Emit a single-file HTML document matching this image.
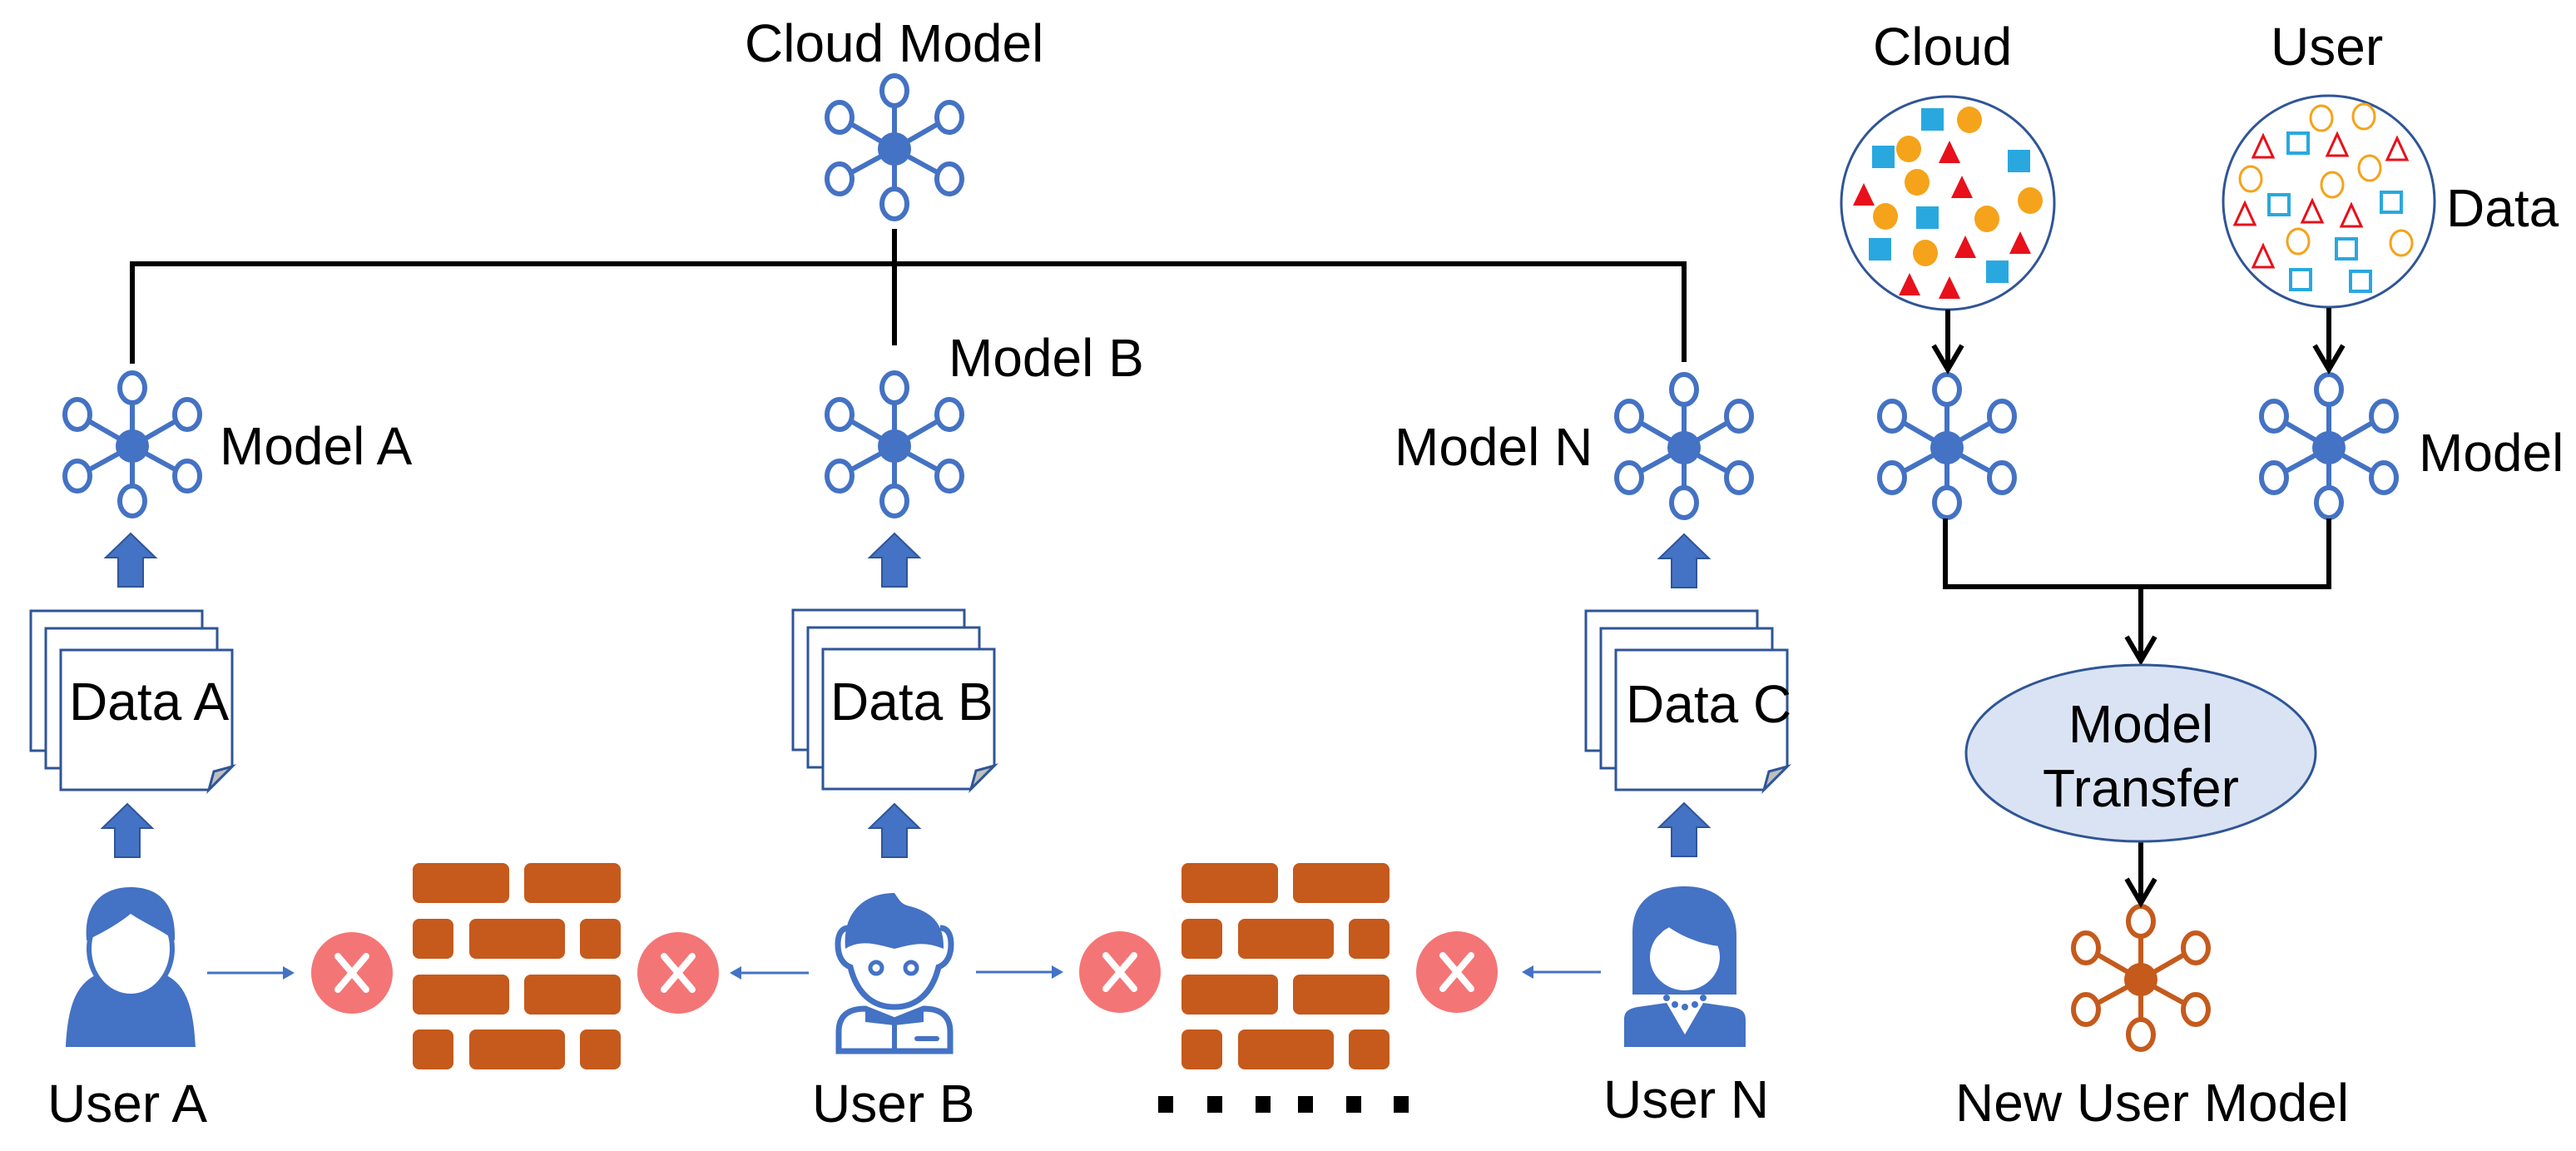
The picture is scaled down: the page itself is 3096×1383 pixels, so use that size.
<!DOCTYPE html>
<html><head><meta charset="utf-8"><style>
html,body{margin:0;padding:0;background:#fff;}
svg{display:block;}
text{font-family:"Liberation Sans",Arial,sans-serif;font-size:64px;fill:#000;}
</style></head><body>
<svg width="3096" height="1383" viewBox="0 0 3096 1383" xmlns="http://www.w3.org/2000/svg">
<defs>
<g id="net">
 <g stroke-width="6">
  <line x1="0" y1="0" x2="0" y2="-70"/><line x1="0" y1="0" x2="0" y2="66"/>
  <line x1="0" y1="0" x2="-66" y2="-38"/><line x1="0" y1="0" x2="66" y2="-38"/>
  <line x1="0" y1="0" x2="-66" y2="36"/><line x1="0" y1="0" x2="66" y2="36"/>
 </g>
 <circle cx="0" cy="0" r="20" stroke="none"/>
 <g fill="#fff" stroke-width="6">
  <ellipse cx="0" cy="-70" rx="15" ry="18"/><ellipse cx="0" cy="66" rx="15" ry="18"/>
  <ellipse cx="-66" cy="-38" rx="15" ry="18"/><ellipse cx="66" cy="-38" rx="15" ry="18"/>
  <ellipse cx="-66" cy="36" rx="15" ry="18"/><ellipse cx="66" cy="36" rx="15" ry="18"/>
 </g>
</g>
<g id="barrow"><polygon points="0,0 30,29 15,29 15,64 -15,64 -15,29 -30,29" fill="#4472c4" stroke="#2f5597" stroke-width="2"/></g>
<g id="docs" stroke="#2f5597" stroke-width="3" fill="#fff">
 <rect x="-36" y="-47" width="206" height="168"/>
 <rect x="-18" y="-26" width="206" height="168"/>
 <path d="M0,0 H206 V140 L178,168 H0 Z"/>
 <path d="M178,168 L184,146 L206,140 Z" fill="#bfbfbf"/>
</g>
<g id="xc"><circle r="49" fill="#f47576"/><g stroke="#fff" stroke-width="8" stroke-linecap="round"><line x1="-17" y1="-20" x2="17" y2="20"/><line x1="17" y1="-20" x2="-17" y2="20"/></g></g>
<g id="wall" fill="#c55a1c">
 <rect x="0" y="0" width="116" height="48" rx="8"/><rect x="134" y="0" width="116" height="48" rx="8"/>
 <rect x="0" y="67" width="49" height="48" rx="8"/><rect x="68" y="67" width="115" height="48" rx="8"/><rect x="201" y="67" width="49" height="48" rx="8"/>
 <rect x="0" y="134" width="116" height="48" rx="8"/><rect x="134" y="134" width="116" height="48" rx="8"/>
 <rect x="0" y="200" width="49" height="48" rx="8"/><rect x="68" y="200" width="115" height="48" rx="8"/><rect x="201" y="200" width="49" height="48" rx="8"/>
</g>
</defs>

<!-- top tree lines -->
<g stroke="#000" stroke-width="6" fill="none">
 <polyline points="159,437 159,317 2024,317 2024,435"/>
 <line x1="1075" y1="275" x2="1075" y2="415"/>
</g>

<g fill="#4472c4" stroke="#4472c4">
 <use href="#net" x="1075" y="179"/>
 <use href="#net" x="159" y="536"/>
 <use href="#net" x="1075" y="536"/>
 <use href="#net" x="2024" y="538"/>
 <use href="#net" x="2340" y="538"/>
 <use href="#net" x="2799" y="538"/>
</g>
<g fill="#c55a1c" stroke="#c55a1c"><use href="#net" x="2573" y="1177"/></g>

<text x="895" y="74">Cloud Model</text>
<text x="264" y="558">Model A</text>
<text x="1140" y="452">Model B</text>
<text x="1676" y="559">Model N</text>

<!-- block arrows -->
<use href="#barrow" x="157" y="641"/><use href="#barrow" x="153" y="966"/>
<use href="#barrow" x="1075" y="641"/><use href="#barrow" x="1075" y="966"/>
<use href="#barrow" x="2024" y="642"/><use href="#barrow" x="2024" y="965"/>

<!-- docs -->
<use href="#docs" x="73" y="781"/>
<use href="#docs" x="989" y="780"/>
<use href="#docs" x="1942" y="781"/>
<text x="83" y="865">Data A</text>
<text x="998" y="865">Data B</text>
<text x="1954" y="868">Data C</text>

<!-- walls -->
<use href="#wall" x="496" y="1037"/>
<use href="#wall" x="1420" y="1037"/>
<use href="#xc" x="423" y="1169"/><use href="#xc" x="815" y="1169"/>
<use href="#xc" x="1346" y="1168"/><use href="#xc" x="1751" y="1168"/>

<!-- thin arrows -->
<g stroke="#4472c4" stroke-width="3" fill="#4472c4">
 <line x1="249" y1="1169" x2="342" y2="1169"/><polygon points="354,1169 340,1161 340,1177" stroke="none"/>
 <line x1="972" y1="1169" x2="889" y2="1169"/><polygon points="877,1169 891,1161 891,1177" stroke="none"/>
 <line x1="1173" y1="1168" x2="1266" y2="1168"/><polygon points="1278,1168 1264,1160 1264,1176" stroke="none"/>
 <line x1="1924" y1="1168" x2="1841" y2="1168"/><polygon points="1829,1168 1843,1160 1843,1176" stroke="none"/>
</g>

<!-- User A -->
<g fill="#4472c4">
 <path d="M79,1258 C82,1200 95,1175 130,1166 L145,1190 L157,1180 L169,1190 L184,1166 C220,1175 232,1200 235,1258 Z"/>
 <ellipse cx="157" cy="1140" rx="50" ry="57" fill="#fff" stroke="#4472c4" stroke-width="6"/>
 <path d="M104,1130 C100,1080 130,1066 157,1066 C190,1066 212,1085 210,1130 C195,1118 175,1110 157,1098 C140,1112 120,1122 104,1130 Z"/>
</g>
<text x="57" y="1348">User A</text>

<!-- User B -->
<g fill="#4472c4">
 <path d="M1016,1140 C1012,1095 1040,1073 1075,1073 C1080,1080 1082,1085 1090,1088 C1120,1095 1135,1110 1134,1140 C1110,1130 1095,1135 1075,1140 C1055,1135 1035,1128 1016,1140 Z"/>
 <path d="M1020,1115 C1010,1115 1007,1125 1007,1135 C1007,1148 1012,1158 1022,1162 C1030,1195 1050,1210 1075,1210 C1100,1210 1120,1195 1128,1162 C1138,1158 1143,1148 1143,1135 C1143,1125 1140,1115 1130,1115" fill="none" stroke="#4472c4" stroke-width="7"/>
 <circle cx="1053" cy="1163" r="7" fill="none" stroke="#4472c4" stroke-width="5"/>
 <circle cx="1095" cy="1163" r="7" fill="none" stroke="#4472c4" stroke-width="5"/>
 <path d="M1008,1263 V1240 C1008,1220 1020,1212 1040,1212 L1075,1226 L1110,1212 C1130,1212 1142,1220 1142,1240 V1263 Z" fill="none" stroke="#4472c4" stroke-width="7"/>
 <path d="M1040,1212 L1075,1226 L1110,1212 L1110,1228 L1075,1232 L1040,1228 Z"/>
 <line x1="1075" y1="1230" x2="1075" y2="1263" stroke="#4472c4" stroke-width="6"/>
 <rect x="1099" y="1245" width="30" height="6" rx="3"/>
</g>
<text x="976" y="1348">User B</text>

<!-- User N -->
<g fill="#4472c4">
 <path d="M1962,1195 V1120 C1962,1085 1985,1065 2025,1065 C2065,1065 2087,1088 2087,1125 V1195 Z"/>
 <ellipse cx="2025" cy="1150" rx="42" ry="40" fill="#fff"/>
 <path d="M1983,1130 C1995,1125 2000,1118 2003,1112 C2020,1125 2045,1135 2068,1137 L2070,1110 L1980,1105 Z"/>
 <path d="M1952,1258 V1225 C1952,1215 1958,1212 1968,1210 L2003,1205 L2025,1243 L2047,1205 L2082,1210 C2092,1212 2098,1215 2098,1225 V1258 Z"/>
 <circle cx="2003" cy="1199" r="4"/><circle cx="2013" cy="1207" r="4"/><circle cx="2025" cy="1210" r="4"/><circle cx="2037" cy="1207" r="4"/><circle cx="2047" cy="1199" r="4"/>
</g>
<text x="1927" y="1343">User N</text>

<!-- dots -->
<g fill="#000">
 <rect x="1392" y="1317" width="18" height="20"/><rect x="1451" y="1317" width="18" height="20"/>
 <rect x="1509" y="1317" width="18" height="20"/><rect x="1560" y="1317" width="18" height="20"/>
 <rect x="1618" y="1317" width="18" height="20"/><rect x="1675" y="1317" width="18" height="20"/>
</g>

<!-- right side -->
<text x="2251" y="78">Cloud</text>
<text x="2729" y="78">User</text>
<text x="2940" y="272">Data</text>
<text x="2907" y="566">Model</text>

<circle cx="2341" cy="244" r="128" fill="#fff" stroke="#2f5597" stroke-width="3"/>
<circle cx="2799" cy="242" r="127" fill="#fff" stroke="#2f5597" stroke-width="3"/>

<g fill="#29a8e0">
 <rect x="2309" y="130" width="27" height="27"/><rect x="2250" y="175" width="27" height="27"/>
 <rect x="2413" y="180" width="27" height="27"/><rect x="2303" y="248" width="27" height="27"/>
 <rect x="2246" y="286" width="27" height="27"/><rect x="2387" y="313" width="27" height="27"/>
</g>
<g fill="#f5a31a">
 <ellipse cx="2367" cy="144" rx="15" ry="16"/><ellipse cx="2294" cy="179" rx="15" ry="16"/>
 <ellipse cx="2304" cy="219" rx="15" ry="16"/><ellipse cx="2266" cy="260" rx="15" ry="16"/>
 <ellipse cx="2388" cy="263" rx="15" ry="16"/><ellipse cx="2440" cy="241" rx="15" ry="16"/>
 <ellipse cx="2314" cy="304" rx="15" ry="16"/>
</g>
<g fill="#e8101a">
 <polygon points="2343,169 2356,196 2330,196"/><polygon points="2240,220 2253,247 2227,247"/>
 <polygon points="2358,211 2371,238 2345,238"/><polygon points="2362,283 2375,310 2349,310"/>
 <polygon points="2428,278 2441,305 2415,305"/><polygon points="2295,328 2308,355 2282,355"/>
 <polygon points="2343,332 2356,359 2330,359"/>
</g>
<g fill="none" stroke="#f5a31a" stroke-width="3">
 <ellipse cx="2790" cy="142" rx="13" ry="15"/><ellipse cx="2841" cy="140" rx="13" ry="15"/>
 <ellipse cx="2705" cy="215" rx="13" ry="15"/><ellipse cx="2803" cy="222" rx="13" ry="15"/>
 <ellipse cx="2848" cy="202" rx="13" ry="15"/><ellipse cx="2762" cy="290" rx="13" ry="15"/>
 <ellipse cx="2886" cy="292" rx="13" ry="15"/>
</g>
<g fill="none" stroke="#29a8e0" stroke-width="4">
 <rect x="2750" y="160" width="24" height="24"/><rect x="2727" y="234" width="24" height="24"/>
 <rect x="2862" y="231" width="24" height="24"/><rect x="2808" y="287" width="24" height="24"/>
 <rect x="2753" y="324" width="24" height="24"/><rect x="2825" y="326" width="24" height="24"/>
</g>
<g fill="none" stroke="#e8101a" stroke-width="3">
 <polygon points="2720,163 2732,189 2708,189"/><polygon points="2809,161 2821,187 2797,187"/>
 <polygon points="2881,166 2893,192 2869,192"/><polygon points="2698,244 2710,270 2686,270"/>
 <polygon points="2779,241 2791,267 2767,267"/><polygon points="2826,246 2838,272 2814,272"/>
 <polygon points="2720,295 2732,321 2708,321"/>
</g>

<g stroke="#000" stroke-width="6" fill="none">
 <line x1="2341" y1="372" x2="2341" y2="443"/><polyline points="2324,415 2341,444 2358,415"/>
 <line x1="2799" y1="370" x2="2799" y2="443"/><polyline points="2782,415 2799,444 2816,415"/>
 <polyline points="2338,623 2338,705 2799,705 2799,623"/>
 <line x1="2573" y1="705" x2="2573" y2="793"/><polyline points="2556,765 2573,794 2590,765"/>
 <line x1="2573" y1="1011" x2="2573" y2="1084"/><polyline points="2556,1056 2573,1085 2590,1056"/>
</g>
<ellipse cx="2573" cy="905" rx="210" ry="106" fill="#dae3f3" stroke="#2f5597" stroke-width="3"/>
<text x="2573" y="892" text-anchor="middle">Model</text>
<text x="2573" y="969" text-anchor="middle">Transfer</text>
<text x="2350" y="1347">New User Model</text>
</svg>
</body></html>
